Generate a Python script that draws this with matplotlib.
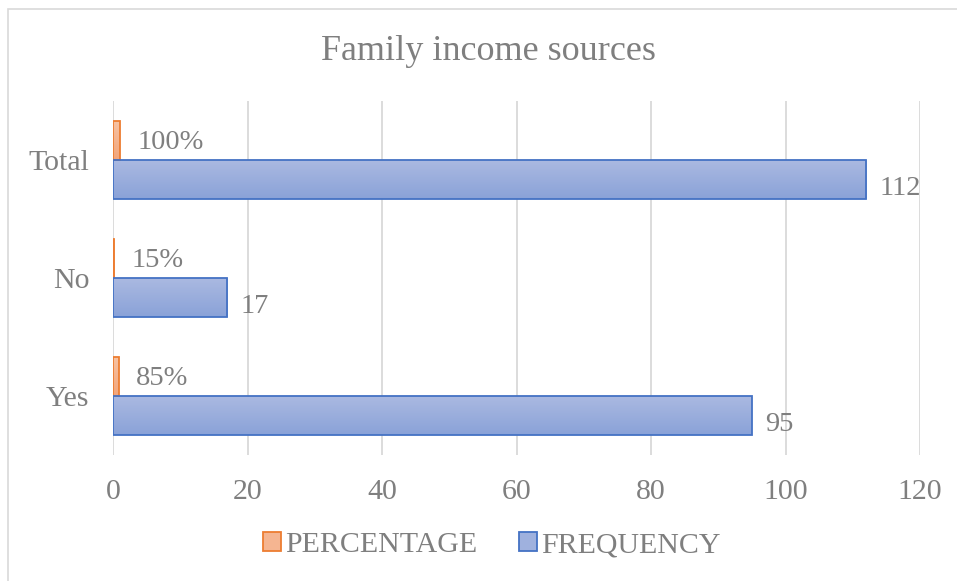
import numpy as np
import matplotlib.pyplot as plt
from matplotlib.patches import Rectangle

categories = ['Yes', 'No', 'Total']
frequency = [95, 17, 112]
percentage = [0.85, 0.15, 1.00]
pct_labels = ['85%', '15%', '100%']
x_ticks = [0, 20, 40, 60, 80, 100, 120]

TEXT = '#7f7f7f'
plt.rcParams['font.family'] = ['Liberation Serif', 'DejaVu Serif']

fig = plt.figure(figsize=(9.57, 5.81), dpi=100)
ax = fig.add_axes([113 / 957, 1 - 455 / 581, (920 - 113) / 957, (455 - 101) / 581])

# outer chart border (light gray)
fig.patches.append(Rectangle((8 / 957, -0.01), 1.0, 1 - 9 / 581 + 0.01,
                             transform=fig.transFigure, fill=False,
                             edgecolor='#d9d9d9', linewidth=1.2))

h = 0.33
y = np.arange(len(categories))


def grad_bar(x0, yc, width, height, top, bottom, edge):
    grad = np.linspace(0, 1, 50).reshape(-1, 1)
    cmap = plt.matplotlib.colors.LinearSegmentedColormap.from_list('g', [bottom, top])
    ax.imshow(grad, extent=(x0, x0 + width, yc - height / 2, yc + height / 2),
              cmap=cmap, aspect='auto', origin='lower', zorder=2)
    ax.add_patch(Rectangle((x0, yc - height / 2), width, height, fill=False,
                           edgecolor=edge, linewidth=1.3, zorder=3))


for i in range(len(categories)):
    grad_bar(0, y[i] + h / 2, percentage[i], h, '#f7c2a2', '#f2a57a', '#ed7d31')
    grad_bar(0, y[i] - h / 2, frequency[i], h, '#aab9e1', '#8aa2d8', '#4472c4')
    ax.text(percentage[i] + 2.6, y[i] + h / 2 - 0.02, pct_labels[i], color=TEXT,
            fontsize=20.5, va='center', ha='left')
    ax.text(frequency[i] + 2.0, y[i] - h / 2 - 0.08, str(frequency[i]), color=TEXT,
            fontsize=20.5, va='center', ha='left')

ax.set_xlim(0, 120)
ax.set_ylim(-0.5, 2.5)
ax.set_xticks(x_ticks)
ax.set_yticks(y)
ax.set_yticklabels(categories)
ax.tick_params(axis='both', length=0, labelsize=21.5, labelcolor=TEXT)
ax.tick_params(axis='x', pad=17)
ax.tick_params(axis='y', pad=17)
ax.grid(axis='x', color='#d9d9d9', linewidth=1.3, zorder=0)
ax.set_axisbelow(True)
for s in ax.spines.values():
    s.set_visible(False)

fig.text(488 / 957, 1 - 52 / 581, 'Family income sources', ha='center', va='center',
         fontsize=26, color=TEXT)

handles = [Rectangle((0, 0), 1, 1, facecolor='#f5b591', edgecolor='#ed7d31', linewidth=1.3),
           Rectangle((0, 0), 1, 1, facecolor='#9fb1de', edgecolor='#4472c4', linewidth=1.3)]
fig.legend(handles, ['PERCENTAGE', 'FREQUENCY'], loc='center',
           bbox_to_anchor=(492 / 957, 1 - 545 / 581), ncol=2, frameon=False,
           fontsize=21.5, labelcolor=TEXT, handlelength=0.6, handleheight=0.6,
           handletextpad=0.15, columnspacing=1.4)

fig.savefig('out.png', dpi=100)
